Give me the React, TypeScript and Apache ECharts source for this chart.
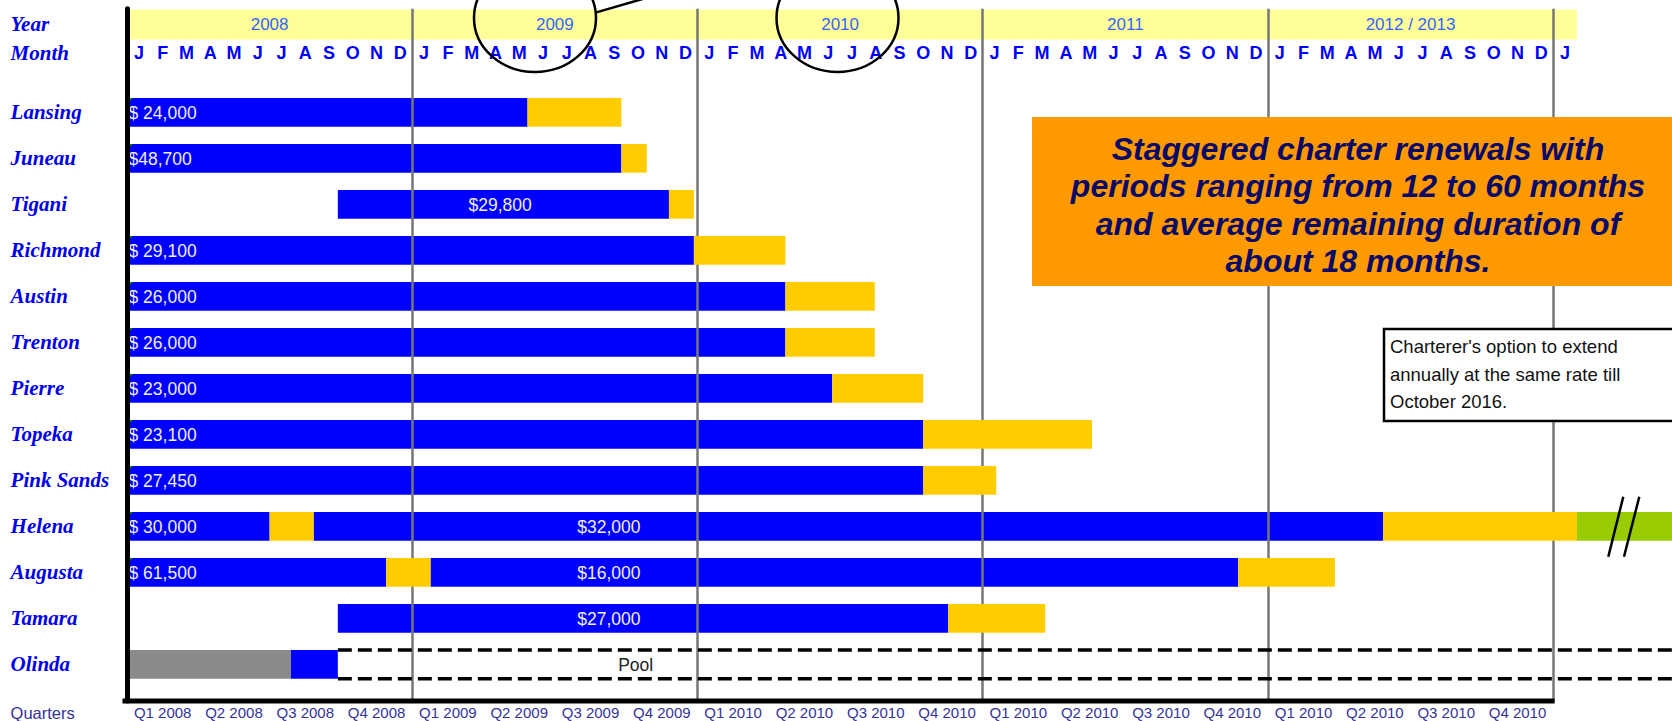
import { useEffect, useRef } from "react";
import * as echarts from "echarts";

// ---------- data ----------
const vessels = ["Lansing", "Juneau", "Tigani", "Richmond", "Austin", "Trenton", "Pierre", "Topeka", "Pink Sands", "Helena", "Augusta", "Tamara", "Olinda"];
const monthLetters = ["J", "F", "M", "A", "M", "J", "J", "A", "S", "O", "N", "D"];
const yearLabels = ["2008", "2009", "2010", "2011", "2012 / 2013"];
const quarterLabels = [
  "Q1 2008", "Q2 2008", "Q3 2008", "Q4 2008",
  "Q1 2009", "Q2 2009", "Q3 2009", "Q4 2009",
  "Q1 2010", "Q2 2010", "Q3 2010", "Q4 2010",
  "Q1 2010", "Q2 2010", "Q3 2010", "Q4 2010",
  "Q1 2010", "Q2 2010", "Q3 2010", "Q4 2010",
];
// months counted from January 2008: [row, start, end]
const fixedCharters = [
  [0, 0, 16.85], [1, 0, 20.8], [2, 8.87, 22.8], [3, 0, 23.85], [4, 0, 27.7],
  [5, 0, 27.7], [6, 0, 29.67], [7, 0, 33.5], [8, 0, 33.5], [9, 0, 6.0],
  [9, 7.85, 52.85], [10, 0, 10.9], [10, 12.77, 46.75], [11, 8.87, 34.55], [12, 6.9, 8.87],
];
const charterOptions = [
  [0, 16.85, 20.8], [1, 20.8, 21.87], [2, 22.8, 23.85], [3, 23.85, 27.7], [4, 27.7, 31.46],
  [5, 27.7, 31.46], [6, 29.67, 33.5], [7, 33.5, 40.6], [8, 33.5, 36.57], [9, 6.0, 7.85],
  [9, 52.85, 61.0], [10, 10.9, 12.77], [10, 46.75, 50.82], [11, 34.55, 38.63],
];
const annualExtensions = [[9, 61.0, 65]];
const offCharter = [[12, 0, 6.9]];
const poolPeriods = [[12, 8.87, 65]];
// [row, month, text, anchor]
const rateLabels: [number, number, string, string][] = [
  [0, 0, "$ 24,000", "start"], [1, 0, "$48,700", "start"], [2, 15.7, "$29,800", "center"],
  [3, 0, "$ 29,100", "start"], [4, 0, "$ 26,000", "start"], [5, 0, "$ 26,000", "start"],
  [6, 0, "$ 23,000", "start"], [7, 0, "$ 23,100", "start"], [8, 0, "$ 27,450", "start"],
  [9, 0, "$ 30,000", "start"], [9, 20.27, "$32,000", "center"], [10, 0, "$ 61,500", "start"],
  [10, 20.27, "$16,000", "center"], [11, 20.27, "$27,000", "center"],
];
const poolLabels: [number, number, string, string][] = [[12, 21.4, "Pool", "center"]];
const yearBand = [[0, 61]];
const frameBottom = [[0, 60]];
const totalMonths = 65;
const noteLines = [
  "Staggered charter renewals with",
  "periods ranging from 12 to 60 months",
  "and average remaining duration of",
  "about 18 months.",
];
const optionNote = ["Charterer's option to extend", "annually at the same rate till", "October 2016."];

// ---------- layout / style ----------
const SANS = '"Liberation Sans", Arial, sans-serif';
const Y_MIN = -2.25;
const Y_MAX = 12.8;
const YEAR_ROW = -1.93;
const MONTH_ROW = -1.283;
const BAND_BOTTOM = -1.583;
const BAR_RATIO = 0.624;

const monthIdx = Array.from({ length: totalMonths }, (_, i) => String(i));

function barSeries(name: string, data: number[][], color: string, z: number) {
  return {
    name,
    type: "custom",
    z,
    xAxisIndex: 0,
    yAxisIndex: 0,
    encode: { x: [1, 2], y: 0 },
    data,
    renderItem: (_p: any, api: any) => {
      const row = api.value(0);
      const a = api.coord([api.value(1), row]);
      const b = api.coord([api.value(2), row]);
      const h = api.size([0, 1])[1] * BAR_RATIO;
      return {
        type: "rect",
        shape: { x: a[0], y: a[1] - h / 2, width: b[0] - a[0], height: h },
        style: { fill: color },
      };
    },
  };
}

function labelSeries(name: string, labels: [number, number, string, string][], color: string) {
  return {
    name,
    type: "custom",
    z: 5,
    xAxisIndex: 0,
    yAxisIndex: 0,
    encode: { x: 0, y: 1 },
    data: labels.map((l) => [l[1], l[0]]),
    renderItem: (params: any, api: any) => {
      const [row, at, text, anchor] = labels[params.dataIndex];
      const p = api.coord([at, row]);
      const h = api.size([0, 1])[1] * BAR_RATIO;
      const children: any[] = [
        {
          type: "text",
          x: anchor === "start" ? p[0] + 1.5 : p[0],
          y: p[1] + 1,
          style: {
            text,
            fill: color,
            fontSize: 17.5,
            fontFamily: SANS,
            align: anchor === "start" ? "left" : "center",
            verticalAlign: "middle",
          },
        },
      ];
      if (anchor === "start") {
        const y0 = p[1] - h / 2;
        children.push({
          type: "polygon",
          shape: { points: [[p[0], y0], [p[0] + 6, y0], [p[0], y0 + 6]] },
          style: { fill: "#008000" },
        });
      }
      return { type: "group", children };
    },
  };
}

const option: any = {
  animation: false,
  backgroundColor: "#ffffff",
  textStyle: { fontFamily: SANS },
  grid: { left: 127, right: 0, top: 8.8, height: 692.3, containLabel: false, outerBoundsMode: "none" },
  xAxis: [
    {
      type: "value",
      min: 0,
      max: totalMonths,
      interval: 12,
      position: "bottom",
      z: 2,
      axisLine: { show: false },
      axisTick: { show: false },
      axisLabel: { show: false },
      splitLine: { show: true, showMinLine: false, showMaxLine: false, lineStyle: { color: "#777777", width: 2.5 } },
    },
    {
      type: "category",
      position: "top",
      offset: -44.2,
      data: monthIdx,
      z: 6,
      axisLine: { show: false },
      axisTick: { show: false },
      splitLine: { show: false },
      axisLabel: {
        interval: 0,
        margin: 0,
        verticalAlign: "middle",
        formatter: (_v: string, i: number) => (i <= 60 ? monthLetters[i % 12] : ""),
        color: "#0000ff",
        fontWeight: "bold",
        fontSize: 18,
        fontFamily: SANS,
      },
    },
    {
      type: "value",
      position: "top",
      offset: -15.7,
      min: 0,
      max: totalMonths,
      interval: 6,
      z: 6,
      axisLine: { show: false },
      axisTick: { show: false },
      splitLine: { show: false },
      axisLabel: {
        margin: 0,
        verticalAlign: "middle",
        formatter: (v: number) => (v % 12 === 6 ? yearLabels[(v - 6) / 12] ?? "" : ""),
        color: "#3366ff",
        fontSize: 17,
        fontFamily: SANS,
      },
    },
    {
      type: "category",
      position: "bottom",
      data: monthIdx,
      z: 6,
      axisLine: { show: false },
      axisTick: { show: false },
      splitLine: { show: false },
      axisLabel: {
        interval: 0,
        margin: 11,
        verticalAlign: "middle",
        formatter: (_v: string, i: number) => (i % 3 === 1 ? quarterLabels[(i - 1) / 3] ?? "" : ""),
        color: "#333399",
        fontSize: 15,
        fontFamily: SANS,
      },
      name: "Quarters",
      nameLocation: "start",
      nameGap: 116.4,
      nameTextStyle: {
        align: "left",
        verticalAlign: "top",
        padding: [3, 0, 0, 0],
        color: "#333399",
        fontSize: 16.5,
        fontFamily: SANS,
      },
    },
  ],
  yAxis: {
    type: "value",
    inverse: true,
    min: Y_MIN,
    max: Y_MAX,
    offset: 2,
    z: 10,
    axisLine: { show: true, lineStyle: { color: "#000000", width: 5 } },
    axisTick: { show: false },
    splitLine: { show: false },
    axisLabel: {
      customValues: [YEAR_ROW, MONTH_ROW, ...vessels.map((_, i) => i)],
      formatter: (v: number) => (v < -1.6 ? "Year" : v < -0.5 ? "Month" : vessels[Math.round(v)] ?? ""),
      align: "left",
      margin: 114.4,
      verticalAlign: "middle",
      fontFamily: '"Liberation Serif", "Times New Roman", serif',
      fontWeight: "bold",
      fontStyle: "italic",
      fontSize: 21,
      color: "#0000ee",
    },
  },
  series: [
    {
      name: "years",
      type: "custom",
      z: 1,
      encode: { x: [0, 1] },
      data: yearBand,
      renderItem: (_p: any, api: any) => {
        const a = api.coord([api.value(0), Y_MIN]);
        const b = api.coord([api.value(1), BAND_BOTTOM]);
        return { type: "rect", shape: { x: a[0], y: a[1] + 0.7, width: b[0] - a[0], height: b[1] - a[1] - 0.7 }, style: { fill: "#ffff99" } };
      },
    },
    barSeries("Fixed charter", fixedCharters, "#0000ff", 1),
    barSeries("Charter option", charterOptions, "#ffcc00", 3),
    barSeries("Annual extension", annualExtensions, "#99cc00", 3),
    barSeries("Off charter", offCharter, "#8a8a8a", 3),
    {
      name: "Pool",
      type: "custom",
      z: 3,
      encode: { x: [1, 2], y: 0 },
      data: poolPeriods,
      renderItem: (_p: any, api: any) => {
        const row = api.value(0);
        const a = api.coord([api.value(1), row]);
        const b = api.coord([api.value(2), row]);
        const h = api.size([0, 1])[1] * BAR_RATIO;
        const st = { stroke: "#000000", lineWidth: 3.5, lineDash: [14, 6] };
        return {
          type: "group",
          children: [
            { type: "line", shape: { x1: a[0], y1: a[1] - h / 2, x2: b[0], y2: a[1] - h / 2 }, style: st },
            { type: "line", shape: { x1: a[0], y1: a[1] + h / 2, x2: b[0], y2: a[1] + h / 2 }, style: st },
          ],
        };
      },
    },
    {
      name: "frame",
      type: "custom",
      z: 4,
      encode: { x: [0, 1] },
      data: frameBottom,
      renderItem: (_p: any, api: any) => {
        const a = api.coord([api.value(0), Y_MAX]);
        const b = api.coord([api.value(1), Y_MAX]);
        return { type: "line", shape: { x1: a[0] - 4.5, y1: a[1], x2: b[0] + 1.5, y2: b[1] }, style: { stroke: "#000000", lineWidth: 5 } };
      },
    },
    labelSeries("Rates", rateLabels, "#eeeeff"),
    labelSeries("Pool label", poolLabels, "#222222"),
  ],
  graphic: [
    { type: "rect", z: 100, shape: { x: 1032, y: 117, width: 660, height: 169 }, style: { fill: "#ff9900" } },
    {
      type: "text",
      z: 101,
      x: 1358,
      y: 205,
      style: {
        text: noteLines.join("\n"),
        fill: "#0a0a66",
        fontSize: 32,
        fontWeight: "bold",
        fontStyle: "italic",
        fontFamily: SANS,
        align: "center",
        verticalAlign: "middle",
        lineHeight: 37.5,
      },
    },
    { type: "rect", z: 100, shape: { x: 1384, y: 329, width: 300, height: 92 }, style: { fill: "#ffffff", stroke: "#000000", lineWidth: 2.5 } },
    {
      type: "text",
      z: 101,
      x: 1390,
      y: 374,
      style: {
        text: optionNote.join("\n"),
        fill: "#111111",
        fontSize: 18.5,
        fontFamily: SANS,
        align: "left",
        verticalAlign: "middle",
        lineHeight: 27.5,
      },
    },
    { type: "ellipse", z: 100, shape: { cx: 535, cy: 18, rx: 61, ry: 54 }, style: { fill: "transparent", stroke: "#000000", lineWidth: 2.5 } },
    { type: "ellipse", z: 100, shape: { cx: 837.5, cy: 18, rx: 61, ry: 54 }, style: { fill: "transparent", stroke: "#000000", lineWidth: 2.5 } },
    { type: "line", z: 100, shape: { x1: 595.5, y1: 12.6, x2: 646, y2: -2 }, style: { stroke: "#000000", lineWidth: 2.5 } },
    { type: "line", z: 100, shape: { x1: 1623.3, y1: 496.7, x2: 1608.3, y2: 556.7 }, style: { stroke: "#000000", lineWidth: 2.5 } },
    { type: "line", z: 100, shape: { x1: 1639.3, y1: 496.7, x2: 1624, y2: 556.7 }, style: { stroke: "#000000", lineWidth: 2.5 } },
  ],
};

export default function App() {
  const ref = useRef<HTMLDivElement>(null);
  useEffect(() => {
    if (!ref.current) return;
    const chart = echarts.init(ref.current, null, { renderer: "svg" });
    chart.setOption(option);
    return () => chart.dispose();
  }, []);
  return (
    <div
      ref={ref}
      style={{ position: "fixed", left: 0, top: 0, width: 1672, height: 721, background: "#ffffff" }}
    />
  );
}
